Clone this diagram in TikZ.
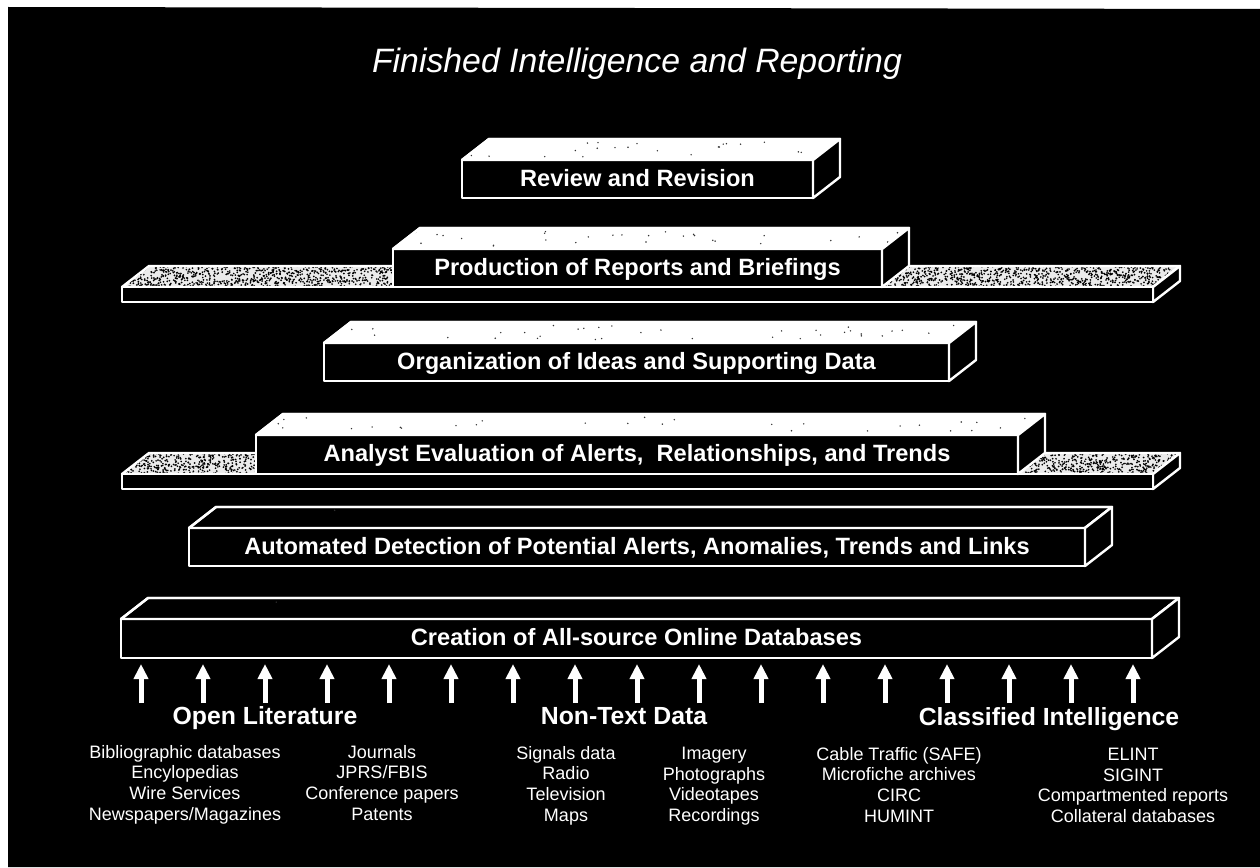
\documentclass[tikz,border=0pt]{standalone}
\usepackage{fontspec}
\setmainfont{Liberation Sans}
\usetikzlibrary{arrows.meta}
\tikzset{
  edge3/.style={draw=white, line width=2.4pt, line join=round},
  front/.style={edge3, fill=black, text=white, inner sep=0pt, outer sep=0pt,
    font=\fontsize{23.6}{28}\selectfont\bfseries, text height=17.5pt, text depth=3.5pt},
  lidw/.style={edge3, fill=white},
  lidb/.style={edge3, fill=black},
  sidef/.style={edge3, fill=black},
  stip/.style={edge3},
  headlbl/.style={text=white, inner sep=0pt, anchor=base, font=\fontsize{24.8}{29}\selectfont\bfseries},
  itemlist/.style={text=white, inner sep=0pt, anchor=north, align=center, font=\fontsize{18}{20.7}\selectfont},
  uparrow/.style={draw=white, line width=5pt, -{Triangle[width=14pt,length=15pt]}, shorten >=6pt},
}
\newcommand{\blockbox}[8]{%
  \node[front, minimum width={#3-#2}, minimum height={#5-#4}] (#1) at ({(#2+#3)/2},{(#4+#5)/2}) {#7};
  \path[#6] (#1.north west) -- ++(27,-21) -- ([shift={(27,-21)}]#1.north east) -- (#1.north east) -- cycle;
  \begin{scope}
    \clip (#1.north west) -- ++(27,-21) -- ([shift={(27,-21)}]#1.north east) -- (#1.north east) -- cycle;
    \foreach \k in {1,...,#8} {\fill[black!80] ({#2+rnd*(#3-#2+27)},{#4-3-rnd*15}) circle (0.8);}
  \end{scope}
  \path[edge3] (#1.north west) -- ++(27,-21) -- ([shift={(27,-21)}]#1.north east) -- (#1.north east);
  \path[sidef] (#1.north east) -- ++(27,-21) -- ([shift={(27,-21)}]#1.south east) -- (#1.south east) -- cycle;
}
\newcommand{\slabdraw}[4]{%
  \fill[white!92!black] (#1,#3) -- ++(27,-21) -- ({#2+27},{#3-21}) -- (#2,#3) -- cycle;
  \begin{scope}
    \clip (#1,#3) -- ++(27,-21) -- ({#2+27},{#3-21}) -- (#2,#3) -- cycle;
    \foreach \k in {1,...,3200} {\fill[black] ({#1+rnd*(#2-#1+27)},{#3-rnd*21}) circle (0.95);}
  \end{scope}
  \path[stip] (#1,#3) -- ++(27,-21) -- ({#2+27},{#3-21}) -- (#2,#3) -- cycle;
  \path[sidef] (#2,#3) -- ++(27,-21) -- ({#2+27},{#4-21}) -- (#2,#4) -- cycle;
  \path[sidef] (#1,#3) rectangle (#2,#4);
}
\begin{document}
\begin{tikzpicture}[x=1pt,y=-1pt]
\pgfmathsetseed{4711}
\useasboundingbox (0,0) rectangle (1260,867);
\fill[white] (0,0) rectangle (1260,867);
\fill[black] (8,7) -- (1260,9) -- (1260,867) -- (8,867) -- cycle;

\node[text=white, inner sep=0pt, anchor=base, font=\fontsize{33.8}{40}\selectfont\itshape] (title) at (637,72) {Finished Intelligence and Reporting};

\blockbox{review}{462}{813}{160}{198}{lidw}{Review and Revision}{25}
\slabdraw{122}{1153}{287}{302}
\blockbox{production}{393}{882}{249}{287}{lidw}{Production of Reports and Briefings}{30}
\blockbox{organization}{324}{949}{343}{381}{lidw}{Organization of Ideas and Supporting Data}{35}
\slabdraw{122}{1153}{474}{489}
\blockbox{analyst}{256}{1018}{435}{474}{lidw}{Analyst Evaluation of Alerts,\ \ Relationships, and Trends}{30}
\blockbox{automated}{189}{1085}{528}{566}{lidb}{Automated Detection of Potential Alerts, Anomalies, Trends and Links}{1}
\blockbox{creation}{121}{1152}{619}{658}{lidb}{Creation of All-source Online Databases}{1}

\foreach \i in {0,...,16} {
  \coordinate (t\i) at ({141+62*\i},703);
  \draw[uparrow] (t\i) -- (t\i |- creation.south);
}

\node[headlbl] (hol) at (265,724) {Open Literature};
\node[headlbl] (hnt) at (624,724) {Non-Text Data};
\node[headlbl] (hci) at (1049,725) {Classified Intelligence};

\node[itemlist] (c1) at (185,745) {Bibliographic databases\\Encylopedias\\Wire Services\\Newspapers/Magazines};
\node[itemlist] (c2) at (382,745) {Journals\\JPRS/FBIS\\Conference papers\\Patents};
\node[itemlist] (c3) at (566,746) {Signals data\\Radio\\Television\\Maps};
\node[itemlist] (c4) at (714,747) {Imagery\\Photographs\\Videotapes\\Recordings};
\node[itemlist] (c5) at (899,747) {Cable Traffic (SAFE)\\Microfiche archives\\CIRC\\HUMINT};
\node[itemlist] (c6) at (1133,748) {ELINT\\SIGINT\\Compartmented reports\\Collateral databases};
\end{tikzpicture}
\end{document}
